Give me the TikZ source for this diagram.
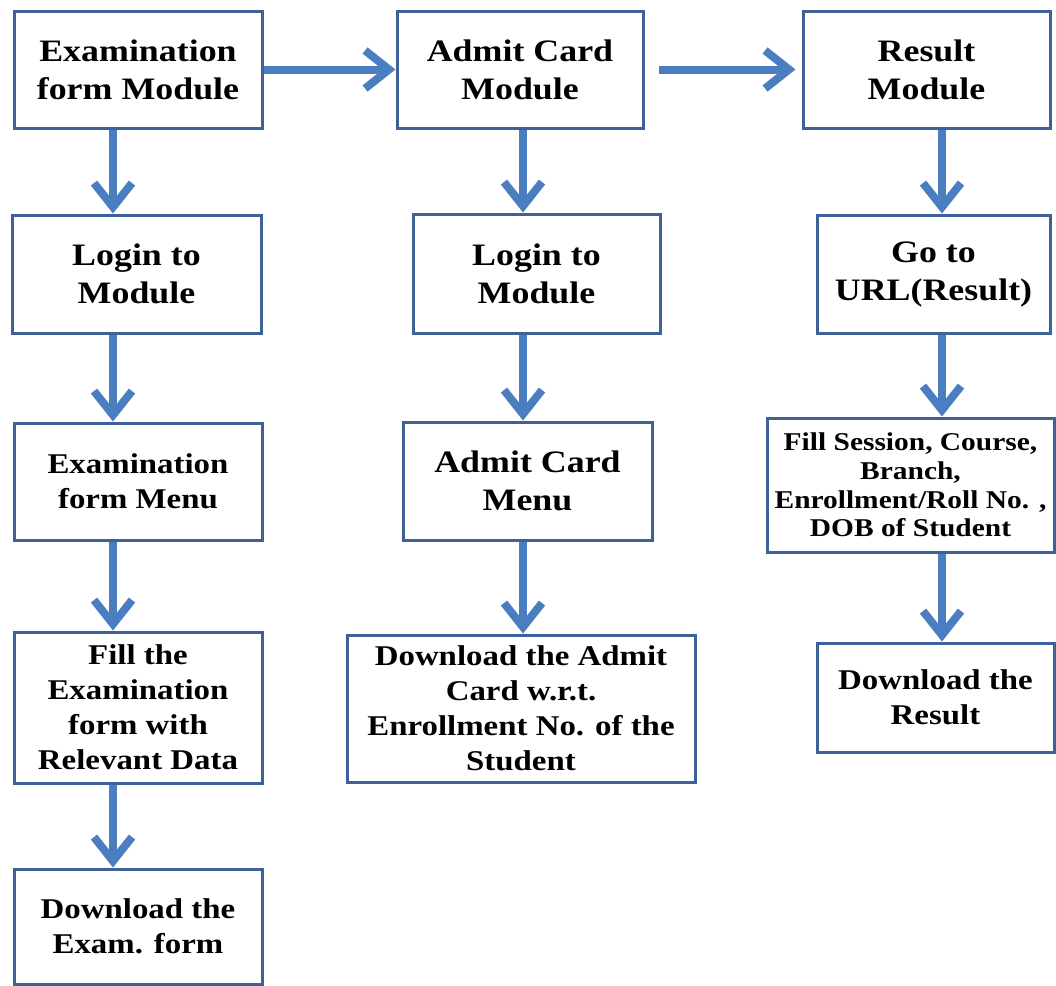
\documentclass[tikz,border=0pt]{standalone}
\usepackage{fontspec}
\setmainfont{Liberation Serif}[FakeStretch = 1.15]
\usepackage{tikz}
\usetikzlibrary{arrows.meta}
\usepackage{xcolor}

\definecolor{boxblue}{RGB}{62,98,152}
\definecolor{flowblue}{RGB}{74,126,193}

\newcommand{\fsbig}{\fontsize{15.6}{19}\selectfont}
\newcommand{\fsmid}{\fontsize{14.3}{17.5}\selectfont}
\newcommand{\fssmall}{\fontsize{12.8}{14.3}\selectfont}

\tikzset{
  box/.style = {draw = boxblue, line width = 1.5pt, fill = white, align = center, inner sep = 0pt},
  bigbox/.style = {box, font = \bfseries\fsbig},
  midbox/.style = {box, font = \bfseries\fsmid},
  smallbox/.style = {box, font = \bfseries\fssmall},
  flow/.style = {draw = flowblue, line width = 4pt, -{Straight Barb[length = 12pt, width = 19pt]}}
}

\begin{document}
\begin{tikzpicture}[x = .5pt, y = -.5pt]
 \useasboundingbox (0, 0) rectangle (1056, 986);
 % first column
 \node[bigbox, minimum width = 124pt, minimum height = 58.5pt] (efmod) at (138, 69.5) {Examination\\form Module};
 \node[bigbox, minimum width = 124.5pt, minimum height = 59pt] (eflogin) at (136.5, 274) {Login to\\Module};
 \node[midbox, minimum width = 124pt, minimum height = 58.5pt] (efmenu) at (138, 481.5) {Examination\\form Menu};
 \node[midbox, minimum width = 124pt, minimum height = 75.5pt] (effill) at (138, 707.5) {Fill the\\Examination\\form with\\Relevant Data};
 \node[midbox, minimum width = 124pt, minimum height = 57.5pt] (efdown) at (138, 926.5) {Download the\\Exam. form};
 % second column
 \node[bigbox, minimum width = 123pt, minimum height = 58.5pt] (acmod) at (520, 69.5) {Admit Card\\Module};
 \node[bigbox, minimum width = 123.5pt, minimum height = 59.5pt] (aclogin) at (536.5, 273.5) {Login to\\Module};
 \node[bigbox, minimum width = 124.5pt, minimum height = 59pt] (acmenu) at (527.5, 481) {Admit Card\\Menu};
 \node[midbox, minimum width = 174pt, minimum height = 73.5pt] (acdown) at (521, 708.5) {Download the Admit\\Card w.r.t.\\Enrollment No. of the\\Student};
 % third column
 \node[bigbox, minimum width = 123.5pt, minimum height = 58.5pt] (rsmod) at (926.5, 69.5) {Result\\Module};
 \node[bigbox, minimum width = 116.5pt, minimum height = 59pt] (rsurl) at (933.5, 274) {Go to\\URL(Result)};
 \node[smallbox, minimum width = 143.5pt, minimum height = 67pt] (rsfill) at (910.5, 485) {Fill Session, Course,\\Branch,\\Enrollment/Roll No. ,\\DOB of Student};
 \node[midbox, minimum width = 118.5pt, minimum height = 54.5pt] (rsdown) at (935.5, 697.5) {Download the\\Result};
 % arrow columns
 \coordinate (colA) at (113, 0);
 \coordinate (colB) at (523, 0);
 \coordinate (colC) at (942, 0);
 % across the top
 \draw[flow] (efmod.east) -- (acmod.west);
 \draw[flow, shorten <= 7pt, shorten >= 3pt] (acmod.east) -- (rsmod.west);
 % down the columns
 \draw[flow] (efmod.south -| colA) -- (eflogin.north -| colA);
 \draw[flow] (eflogin.south -| colA) -- (efmenu.north -| colA);
 \draw[flow] (efmenu.south -| colA) -- (effill.north -| colA);
 \draw[flow] (effill.south -| colA) -- (efdown.north -| colA);
 \draw[flow] (acmod.south -| colB) -- (aclogin.north -| colB);
 \draw[flow] (aclogin.south -| colB) -- (acmenu.north -| colB);
 \draw[flow] (acmenu.south -| colB) -- (acdown.north -| colB);
 \draw[flow] (rsmod.south -| colC) -- (rsurl.north -| colC);
 \draw[flow] (rsurl.south -| colC) -- (rsfill.north -| colC);
 \draw[flow] (rsfill.south -| colC) -- (rsdown.north -| colC);
\end{tikzpicture}
\end{document}
